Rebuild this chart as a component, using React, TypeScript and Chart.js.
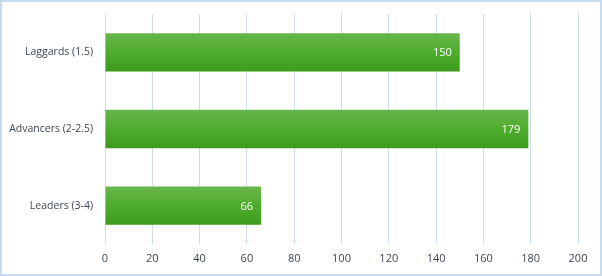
import React, { useEffect, useRef } from "react";
import { Chart, registerables } from "chart.js";

Chart.register(...registerables);

const categories = ["Laggards (1.5)", "Advancers (2-2.5)", "Leaders (3-4)"];
const values = [150, 179, 66];
const xMin = 0;
const xMax = 200;
const xStep = 20;

const FONT = "'Open Sans', 'Noto Sans', sans-serif";

const labelPlugin = {
  id: "barLabels",
  afterDatasetsDraw(chart: any) {
    const ctx = chart.ctx;
    const meta = chart.getDatasetMeta(0);
    ctx.save();
    ctx.font = `11px ${FONT}`;
    ctx.fillStyle = "#ffffff";
    ctx.textAlign = "right";
    ctx.textBaseline = "middle";
    meta.data.forEach((bar: any, i: number) => {
      ctx.fillText(String(values[i]), bar.x - 8, bar.y + 1);
    });
    ctx.restore();
  },
};

const borderPlugin = {
  id: "outerBorder",
  afterDraw(chart: any) {
    const ctx = chart.ctx;
    ctx.save();
    ctx.strokeStyle = "#c6dbf2";
    ctx.lineWidth = 2;
    ctx.strokeRect(1, 1, chart.width - 2, chart.height - 2);
    ctx.restore();
  },
};

export default function App() {
  const ref = useRef<HTMLCanvasElement>(null);
  useEffect(() => {
    const canvas = ref.current;
    if (!canvas) return;
    const chart = new Chart(canvas, {
      type: "bar",
      data: {
        labels: categories,
        datasets: [
          {
            data: values,
            barPercentage: 0.5,
            categoryPercentage: 1,
            borderWidth: 0,
            backgroundColor: (c: any) => {
              const ch = c.chart;
              const y = ch.scales && ch.scales.y;
              if (!y || !ch.chartArea) return "#4fae2d";
              const center = y.getPixelForValue(c.dataIndex);
              const half = (y.height / categories.length) * 0.25;
              const g = ch.ctx.createLinearGradient(0, center - half, 0, center + half);
              g.addColorStop(0, "#68b64d");
              g.addColorStop(0.5, "#4dad2b");
              g.addColorStop(1, "#3e9b1d");
              return g;
            },
          },
        ],
      },
      options: {
        indexAxis: "y",
        responsive: false,
        animation: false,
        maintainAspectRatio: false,
        layout: { padding: { top: 14, right: 24, left: 0, bottom: 0 } },
        plugins: {
          legend: { display: false },
          tooltip: { enabled: false },
        },
        scales: {
          x: {
            min: xMin,
            max: xMax,
            ticks: {
              stepSize: xStep,
              color: "#3b4656",
              font: { family: FONT, size: 11 },
              padding: 8,
            },
            grid: { color: "#c9dcf1", drawTicks: false, lineWidth: 1 },
            border: { display: false },
            afterFit: (s: any) => {
              s.height = 32;
            },
          },
          y: {
            ticks: {
              color: "#3b4656",
              font: { family: FONT, size: 10.5 },
              padding: 12,
            },
            grid: { display: false, drawTicks: false },
            border: { display: false },
            afterFit: (s: any) => {
              s.width = 105;
              s.paddingTop = 0;
              s.paddingBottom = 0;
            },
          },
        },
      },
      plugins: [labelPlugin, borderPlugin],
    });
    return () => chart.destroy();
  }, []);
  return (
    <div style={{ position: "fixed", left: 0, top: 0, width: 602, height: 276, background: "#fff" }}>
      <canvas ref={ref} width={602} height={276} style={{ display: "block" }} />
    </div>
  );
}
